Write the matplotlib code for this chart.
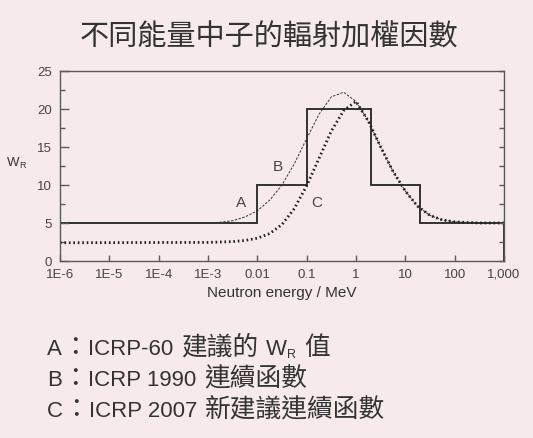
import matplotlib
matplotlib.use("Agg")
import matplotlib.pyplot as plt
from matplotlib.ticker import FixedLocator, MultipleLocator, NullLocator

plt.rcParams['font.family'] = ['Liberation Sans', 'Noto Sans CJK TC', 'DejaVu Sans']

# ---- data ----
A_edges = [1e-6, 0.01, 0.1, 2, 20, 1000]
A_w = [5, 10, 20, 10, 5]

B_logE = [-6, -3, -2.75, -2.5, -2.25, -2, -1.75, -1.5, -1.25, -1, -0.75, -0.5,
          -0.25, 0, 0.25, 0.5, 0.75, 1, 1.25, 1.5, 1.75, 2, 2.5, 3]
B_w = [5.0, 5.0, 5.1, 5.3, 5.8, 6.6, 8.0, 10.0, 12.8, 16.1, 19.3, 21.6,
       22.2, 21.0, 18.4, 15.0, 11.8, 9.2, 7.2, 6.0, 5.4, 5.15, 5.0, 5.0]

C_logE = [-6, -3, -2.5, -2.25, -2, -1.75, -1.5, -1.25, -1, -0.75, -0.5, -0.25,
          0, 0.25, 0.5, 0.75, 1, 1.25, 1.5, 1.75, 2, 2.5, 3]
C_w = [2.4, 2.45, 2.55, 2.7, 3.0, 3.6, 4.8, 6.9, 9.9, 13.5, 17.1, 19.8,
       21.0, 18.4, 15.0, 11.8, 9.2, 7.2, 6.0, 5.4, 5.15, 5.0, 5.0]

x_ticks = [1e-6, 1e-5, 1e-4, 1e-3, 0.01, 0.1, 1, 10, 100, 1000]
x_ticklabels = ['1E-6', '1E-5', '1E-4', '1E-3', '0.01', '0.1', '1', '10', '100', '1,000']

title = '不同能量中子的輻射加權因數'

W, H = 533, 439
bg = '#f7eaea'
ink = '#333333'
LAT = ['Liberation Sans', 'Noto Sans CJK TC']
CJK = ['Noto Sans CJK TC']

fig = plt.figure(figsize=(W/100, H/100), dpi=100, facecolor=bg)
ax = fig.add_axes([60/W, 1-262/H, 444/W, 190/H])
ax.set_facecolor(bg)

ax.stairs(A_w, A_edges, color=ink, lw=1.4)
ax.plot([10**v for v in B_logE], B_w, color=ink, lw=0.7, linestyle=(0, (2.5, 1.5)))
ax.plot([10**v for v in C_logE], C_w, color='#222222', lw=2.0, linestyle=(0, (0.6, 1.0)))

ax.set_xscale('log')
ax.set_xlim(1e-6, 1000)
ax.set_ylim(0, 25)
ax.xaxis.set_major_locator(FixedLocator(x_ticks))
ax.xaxis.set_minor_locator(NullLocator())
ax.set_xticklabels(x_ticklabels)
ax.yaxis.set_major_locator(MultipleLocator(5))
ax.yaxis.set_minor_locator(MultipleLocator(2.5))

for s in ax.spines.values():
    s.set_color('#5a5a5a')
    s.set_linewidth(1.0)
ax.tick_params(axis='both', which='both', direction='in', colors='#5a5a5a',
               labelcolor='#444444', labelsize=9.5, width=1.0)
ax.tick_params(axis='y', which='major', length=6.5, pad=6)
ax.tick_params(axis='y', which='minor', length=3.6)
ax.tick_params(axis='x', which='major', length=4.5, pad=5)

# right-side ticks (shorter)
ax2 = ax.twinx()
ax2.set_ylim(0, 25)
ax2.yaxis.set_major_locator(MultipleLocator(2.5))
ax2.tick_params(axis='y', direction='in', length=3.6, width=1.0, colors='#5a5a5a',
                labelright=False)
for s in ax2.spines.values():
    s.set_visible(False)

ax.set_xlabel('Neutron energy / MeV', fontsize=11, color=ink, labelpad=4)

ax.text(0.0047, 7.7, 'A', fontsize=11, color='#444444', ha='center', va='center')
ax.text(0.026, 12.5, 'B', fontsize=11, color='#444444', ha='center', va='center')
ax.text(0.16, 7.7, 'C', fontsize=11, color='#444444', ha='center', va='center')

fig.text(269/W, 1-38/H, title, fontsize=21, color=ink, ha='center', va='center',
         family=CJK)

renderer = fig.canvas.get_renderer()


def draw_pieces(x_px, base_px, pieces):
    x = x_px
    for text, size, fam, dy in pieces:
        if text == ' ':
            x += size
            continue
        t = fig.text(x/W, 1-(base_px+dy)/H, text, fontsize=size, family=fam,
                     color=ink, ha='left', va='baseline')
        x += t.get_window_extent(renderer).width


# y-axis label W_R
draw_pieces(7, 166, [('W', 9.5, LAT, 0), ('R', 6.5, LAT, 2)])

LS, CS, SP = 16, 18.5, 8
notes = [
    [('A', LS, LAT, 0), ('：', CS, CJK, 0), ('ICRP-60', LS, LAT, 0), (' ', SP, None, 0),
     ('建議的', CS, CJK, 0), (' ', SP, None, 0), ('W', LS, LAT, 0), ('R', 9, LAT, 3),
     (' ', SP, None, 0), ('值', CS, CJK, 0)],
    [('B', LS, LAT, 0), ('：', CS, CJK, 0), ('ICRP 1990', LS, LAT, 0), (' ', SP, None, 0),
     ('連續函數', CS, CJK, 0)],
    [('C', LS, LAT, 0), ('：', CS, CJK, 0), ('ICRP 2007', LS, LAT, 0), (' ', SP, None, 0),
     ('新建議連續函數', CS, CJK, 0)],
]
for i, pcs in enumerate(notes):
    draw_pieces(47, [355, 386, 417][i], pcs)

fig.savefig('out.png', dpi=100, facecolor=bg)
